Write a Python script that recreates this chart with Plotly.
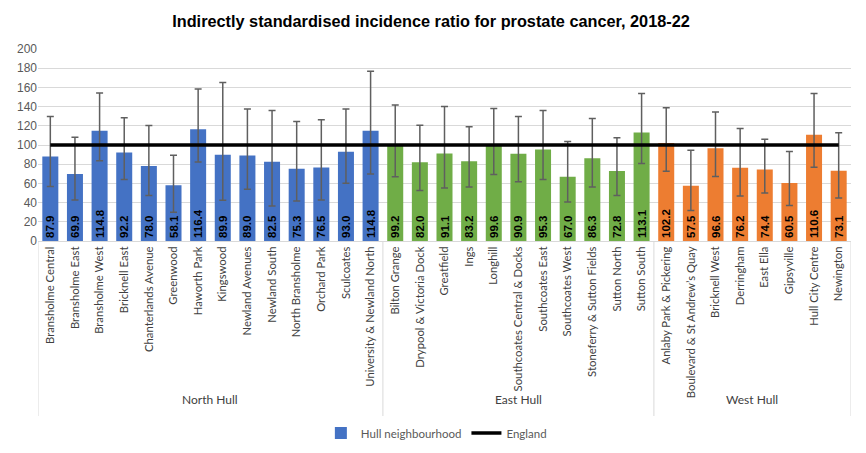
import plotly.graph_objects as go

north = ["Bransholme Central", "Bransholme East", "Bransholme West", "Bricknell East",
         "Chanterlands Avenue", "Greenwood", "Haworth Park", "Kingswood", "Newland Avenues",
         "Newland South", "North Bransholme", "Orchard Park", "Sculcoates",
         "University & Newland North"]
east = ["Bilton Grange", "Drypool & Victoria Dock", "Greatfield", "Ings", "Longhill",
        "Southcoates Central & Docks", "Southcoates East", "Southcoates West",
        "Stoneferry & Sutton Fields", "Sutton North", "Sutton South"]
west = ["Anlaby Park & Pickering", "Boulevard & St Andrew\u2019s Quay", "Bricknell West",
        "Derringham", "East Ella", "Gipsyville", "Hull City Centre", "Newington"]

north_vals = [87.9, 69.9, 114.8, 92.2, 78.0, 58.1, 116.4, 89.9, 89.0, 82.5, 75.3, 76.5, 93.0, 114.8]
east_vals = [99.2, 82.0, 91.1, 83.2, 99.6, 90.9, 95.3, 67.0, 86.3, 72.8, 113.1]
west_vals = [102.2, 57.5, 96.6, 76.2, 74.4, 60.5, 110.6, 73.1]

north_lo = [56.7, 42.8, 83.5, 64.0, 47.3, 29.9, 82.4, 42.4, 53.9, 36.5, 41.7, 42.8, 60.2, 69.9]
north_hi = [129.7, 108.2, 154.1, 128.3, 120.3, 89.4, 158.3, 165.2, 137.4, 136.0, 124.5, 126.3, 137.4, 176.7]
east_lo = [66.8, 52.5, 55.3, 56.3, 69.2, 61.6, 64.0, 40.7, 56.3, 47.3, 80.7]
east_hi = [141.6, 120.7, 140.2, 119.0, 138.1, 129.7, 136.0, 103.7, 127.7, 107.5, 153.7]
west_lo = [72.7, 31.7, 67.1, 47.0, 50.1, 36.9, 76.9, 44.9]
west_hi = [138.8, 94.6, 134.3, 117.2, 106.1, 93.2, 153.7, 112.7]

england_value = 100

groups = [("North Hull", north, north_vals, north_lo, north_hi, "#4472C4"),
          ("East Hull", east, east_vals, east_lo, east_hi, "#70AD47"),
          ("West Hull", west, west_vals, west_lo, west_hi, "#ED7D31")]

cats, vals, lo, hi, colors = [], [], [], [], []
for name, c, v, l, h, col in groups:
    cats += c
    vals += v
    lo += l
    hi += h
    colors += [col] * len(c)

fig = go.Figure()
fig.add_trace(go.Bar(
    x=cats, y=vals, name="Hull neighbourhood",
    marker=dict(color=colors, line=dict(width=0)),
    text=[f"{v:.1f}" for v in vals], textposition="inside", insidetextanchor="start",
    textangle=-90, textfont=dict(family="Liberation Sans", size=11.5, color="black", weight="bold"),
    constraintext="none", cliponaxis=False,
    error_y=dict(type="data", symmetric=False,
                 array=[h - v for h, v in zip(hi, vals)],
                 arrayminus=[v - l for v, l in zip(vals, lo)],
                 color="#5f5f5f", thickness=1.5, width=3.5),
    hoverinfo="skip",
))
fig.add_trace(go.Scatter(
    x=cats, y=[england_value] * len(cats), name="England", mode="lines",
    line=dict(color="black", width=3.5), hoverinfo="skip",
))

plot_h = 453 - 49 - 212
shapes = []
annotations = []
start = 0
bounds = [-0.5]
for name, c, *_ in groups:
    end = start + len(c)
    bounds.append(end - 0.5)
    annotations.append(dict(x=(start + end - 1) / 2, y=-(409 - 241) / plot_h, xref="x", yref="paper",
                            text=name, showarrow=False,
                            font=dict(family="Lato", size=12, color="#404040")))
    start = end
for b in bounds:
    shapes.append(dict(type="line", xref="x", yref="paper", x0=b, x1=b, y0=0,
                       y1=-(416 - 241) / plot_h, line=dict(color="#d9d9d9", width=1)))

fig.update_layout(
    width=866, height=453,
    margin=dict(l=38, r=15, t=49, b=212, autoexpand=False),
    paper_bgcolor="white", plot_bgcolor="white",
    title=dict(text="<b>Indirectly standardised incidence ratio for prostate cancer, 2018-22</b>",
               x=431 / 866, xanchor="center", xref="container", y=1 - 21 / 453, yanchor="middle",
               font=dict(family="Liberation Sans", size=16.3, color="black")),
    bargap=0.35,
    showlegend=True,
    legend=dict(orientation="h", x=0.49, xanchor="center", yref="container",
                y=1 - 433 / 453, yanchor="middle",
                font=dict(family="Lato", size=11.5, color="#595959"), traceorder="normal"),
    shapes=shapes, annotations=annotations,
)
fig.update_xaxes(type="category", tickangle=-90, showgrid=False, showline=True,
                 linecolor="#d9d9d9", linewidth=1, ticks="", automargin=False,
                 tickfont=dict(family="Lato", size=11.3, color="#404040"),
                 range=[-0.5, len(cats) - 0.5])
fig.update_yaxes(range=[0, 200], dtick=20, showgrid=True, gridcolor="#d9d9d9", gridwidth=1,
                 zeroline=False, showline=False, ticks="", automargin=False,
                 tickfont=dict(family="Liberation Sans", size=12, color="#595959"))

fig.write_html("out.html", config={"displayModeBar": False},
               post_script="document.body.style.margin='0';")
